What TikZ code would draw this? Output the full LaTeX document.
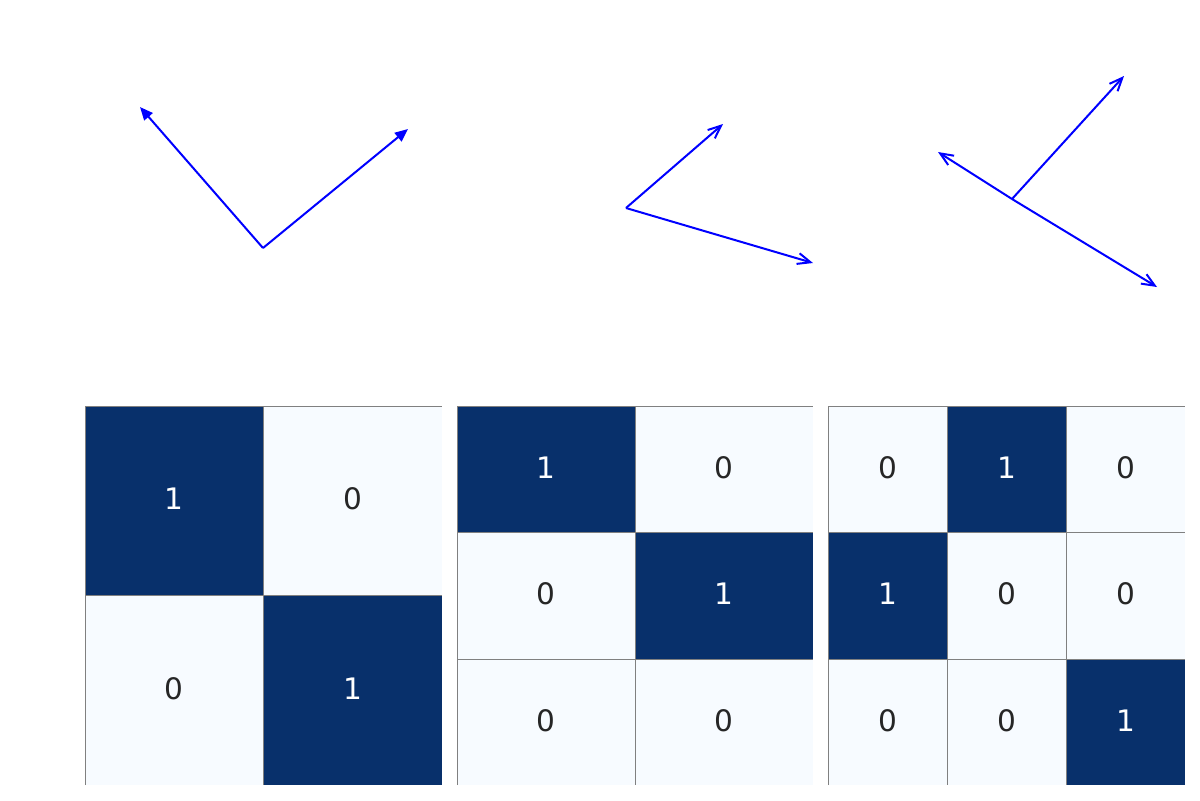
\documentclass[tikz,border=0pt]{standalone}
\usepackage{fontspec}
\setmainfont{DejaVu Sans}
\usetikzlibrary{arrows.meta}
\definecolor{hmdark}{HTML}{08306B}
\definecolor{hmlight}{HTML}{F7FBFF}
\definecolor{hmtext}{HTML}{262626}
\definecolor{hmgrid}{HTML}{808080}
\definecolor{vecblue}{HTML}{0000FF}
\tikzset{
  vecfill/.style={draw=vecblue, line width=1pt, -{Triangle[length=6.5pt,width=5.5pt]}},
  vecopen/.style={draw=vecblue, line width=1pt, -{Straight Barb[length=6.5pt,width=5.5pt,line width=1pt]}},
  darkfill/.style={fill=hmdark},
  lightfill/.style={fill=hmlight},
  darklbl/.style={text=white, font=\fontsize{14.8}{17}\selectfont, inner sep=0pt},
  lightlbl/.style={text=hmtext, font=\fontsize{14.8}{17}\selectfont, inner sep=0pt},
  gridline/.style={draw=hmgrid, line width=0.5pt},
}
% name, x0, y0, x1, y1, value, style (dark/light)
\newcommand{\hmcell}[7]{%
  \path[#7fill] (#2,#3) rectangle (#4,#5);
  \node[#7lbl] (#1) at ({(#2+#4)/2},{(#3+#5)/2-1.5}) {#6};
}
\begin{document}
\begin{tikzpicture}[x=0.5pt,y=-0.5pt]
\useasboundingbox (0,0) rectangle (1200,800);
\fill[white] (0,0) rectangle (1200,800);

% ---- vector plots ----
\coordinate (o1) at (263,248);
\coordinate (t1a) at (140,107);
\coordinate (t1b) at (408,129);
\draw[vecfill] (o1) -- (t1a);
\draw[vecfill] (o1) -- (t1b);

\coordinate (o2) at (626,208);
\coordinate (t2a) at (723,124);
\coordinate (t2b) at (813,263);
\draw[vecopen] (o2) -- (t2a);
\draw[vecopen] (o2) -- (t2b);

\coordinate (o3) at (1012,199);
\coordinate (t3a) at (1124,76);
\coordinate (t3b) at (938,152);
\coordinate (t3c) at (1157,287);
\draw[vecopen] (o3) -- (t3a);
\draw[vecopen] (o3) -- (t3b);
\draw[vecopen] (o3) -- (t3c);

% ---- heatmap 1 ----
\hmcell{aA}{85}{406}{263}{595}{1}{dark}
\hmcell{aB}{263}{406}{442}{595}{0}{light}
\hmcell{aC}{85}{595}{263}{785}{0}{light}
\hmcell{aD}{263}{595}{442}{785}{1}{dark}
\draw[gridline] (85,785) -- (85,406) -- (442,406);
\draw[gridline] (263,406) -- (263,785);
\draw[gridline] (85,595) -- (442,595);

% ---- heatmap 2 ----
\hmcell{bA}{457}{406}{635}{532}{1}{dark}
\hmcell{bB}{635}{406}{813}{532}{0}{light}
\hmcell{bC}{457}{532}{635}{659}{0}{light}
\hmcell{bD}{635}{532}{813}{659}{1}{dark}
\hmcell{bE}{457}{659}{635}{785}{0}{light}
\hmcell{bF}{635}{659}{813}{785}{0}{light}
\draw[gridline] (457,785) -- (457,406) -- (813,406);
\draw[gridline] (635,406) -- (635,785);
\draw[gridline] (457,532) -- (813,532);
\draw[gridline] (457,659) -- (813,659);

% ---- heatmap 3 ----
\hmcell{cA}{828}{406}{947}{532}{0}{light}
\hmcell{cB}{947}{406}{1066}{532}{1}{dark}
\hmcell{cC}{1066}{406}{1185}{532}{0}{light}
\hmcell{cD}{828}{532}{947}{659}{1}{dark}
\hmcell{cE}{947}{532}{1066}{659}{0}{light}
\hmcell{cF}{1066}{532}{1185}{659}{0}{light}
\hmcell{cG}{828}{659}{947}{785}{0}{light}
\hmcell{cH}{947}{659}{1066}{785}{0}{light}
\hmcell{cI}{1066}{659}{1185}{785}{1}{dark}
\draw[gridline] (828,785) -- (828,406) -- (1185,406);
\draw[gridline] (947,406) -- (947,785);
\draw[gridline] (1066,406) -- (1066,785);
\draw[gridline] (828,532) -- (1185,532);
\draw[gridline] (828,659) -- (1185,659);
\end{tikzpicture}
\end{document}
